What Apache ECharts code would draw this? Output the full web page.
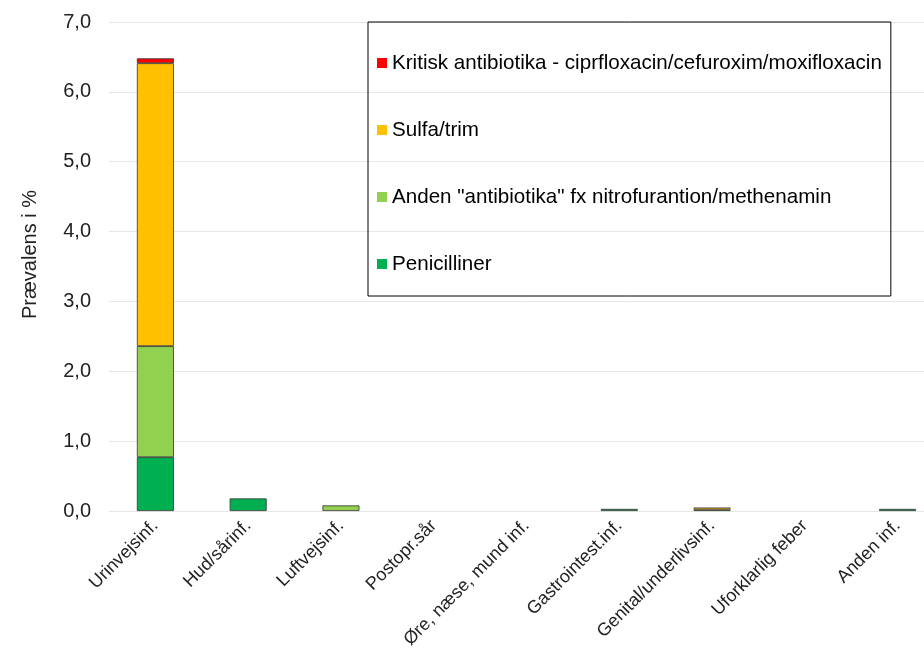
<!DOCTYPE html>
<html><head><meta charset="utf-8">
<script src="https://cdn.jsdelivr.net/npm/echarts@6/dist/echarts.min.js"></script>
<style>html,body{margin:0;padding:0;background:#fff;overflow:hidden}#c{width:944px;height:654px}</style>
</head><body><div id="c"></div>
<script>
const categories = ["Urinvejsinf.","Hud/sårinf.","Luftvejsinf.","Postopr.sår","Øre, næse, mund inf.","Gastrointest.inf.","Genital/underlivsinf.","Uforklarlig feber","Anden inf."];
const penicilliner = [0.77, 0.18, 0, 0, 0, 0.03, 0, 0, 0.03];
const andenAntibiotika = [1.59, 0, 0.08, 0, 0, 0, 0.02, 0, 0];
const sulfaTrim = [4.05, 0, 0, 0, 0, 0, 0.03, 0, 0];
const kritisk = [0.07, 0, 0, 0, 0, 0, 0, 0, 0];
const yTicks = [0,1,2,3,4,5,6,7];

const font = "Liberation Sans, Arial, sans-serif";
const chart = echarts.init(document.getElementById('c'));
function s(name, data, color){
  return {name, type:'bar', stack:'a', data: data.map(v=>v===0?null:v), barWidth:37,
    itemStyle:{color, borderColor:'#333', borderWidth:0.8}};
}
chart.setOption({
  animation:false,
  textStyle:{fontFamily:font},
  grid:{left:109, right:0, top:22, height:489},
  legend:{
    orient:'vertical', left:368, top:22,
    data:["Kritisk antibiotika - ciprfloxacin/cefuroxim/moxifloxacin","Sulfa/trim",'Anden "antibiotika" fx nitrofurantion/methenamin',"Penicilliner"],
    icon:'rect', itemWidth:10, itemHeight:10, itemGap:43,
    itemStyle:{borderWidth:0},
    padding:[29,9,20,9],
    borderColor:'#000', borderWidth:1,
    textStyle:{fontSize:20.6, color:'#000', fontFamily:font, lineHeight:24}
  },
  xAxis:{type:'category', data:categories,
    axisLine:{show:false}, axisTick:{show:false},
    axisLabel:{rotate:45, fontSize:18, color:'#222', fontFamily:font, interval:0, margin:12}},
  yAxis:{type:'value', min:0, max:7, interval:1,
    name:'Prævalens i %', nameLocation:'middle', nameGap:69, nameRotate:90,
    nameTextStyle:{fontSize:20, color:'#222', fontFamily:font, padding:[0,0,0,24]},
    axisLabel:{fontSize:20, color:'#222', fontFamily:font, margin:18, formatter:v=>v.toFixed(1).replace('.',',')},
    splitLine:{lineStyle:{color:'#e6e6e6', width:1}}},
  series:[
    s("Penicilliner", penicilliner, '#00B050'),
    s('Anden "antibiotika" fx nitrofurantion/methenamin', andenAntibiotika, '#92D050'),
    s("Sulfa/trim", sulfaTrim, '#FFC000'),
    s("Kritisk antibiotika - ciprfloxacin/cefuroxim/moxifloxacin", kritisk, '#FF0000')
  ]
});
</script></body></html>
